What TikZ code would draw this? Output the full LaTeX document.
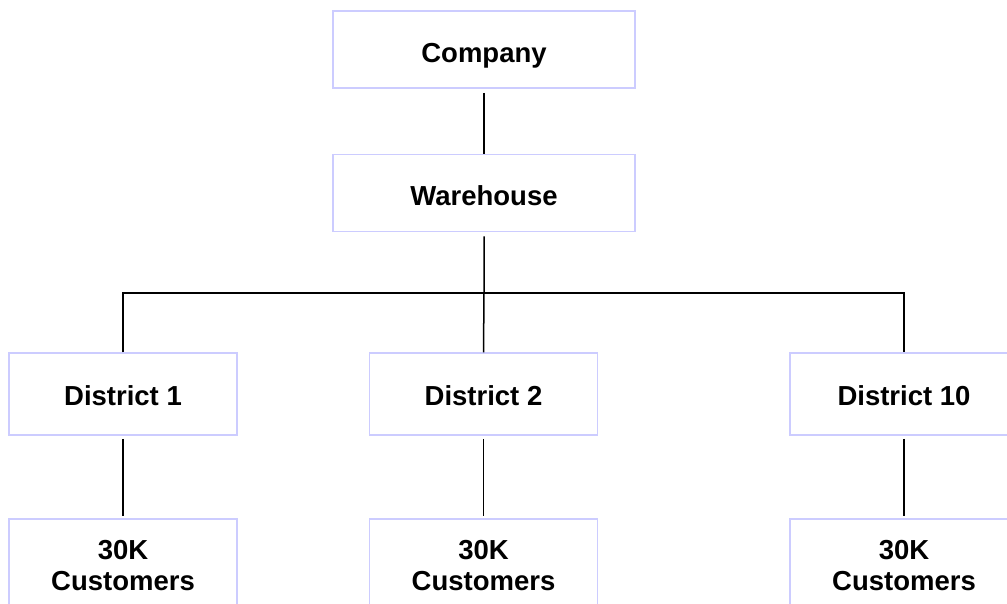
\documentclass[tikz,border=0pt]{standalone}
\usepackage{fontspec}
\setmainfont{Liberation Sans}
\definecolor{boxline}{RGB}{204,204,255}
\begin{document}
\begin{tikzpicture}[x=1pt,y=-1pt,
  orgbox/.style={draw=boxline, line width=1.5pt, rectangle, minimum width=302pt, minimum height=77pt,
    font=\bfseries\fontsize{27.5}{31}\selectfont, align=center, inner sep=0pt, text height=25pt, text depth=0pt},
  distbox/.style={orgbox, minimum width=228pt, minimum height=82pt, text height=22pt},
  custbox/.style={draw=boxline, line width=1.5pt, rectangle, minimum width=228pt, minimum height=93pt,
    font=\bfseries\fontsize{27.5}{31}\selectfont, align=center, inner sep=0pt},
  link/.style={draw=black, line width=1.5pt}]
\clip (0,0) rectangle (1007,603);
\node[orgbox] (comp) at (484,49.5) {Company};
\node[orgbox] (wh) at (484,193) {Warehouse};
\node[distbox] (d1) at (123,394) {District 1};
\node[distbox] (d2) at (483.5,394) {District 2};
\node[distbox] (d10) at (904,394) {District 10};
\node[custbox] (c1) at (123,565.5) {30K\\Customers};
\node[custbox] (c2) at (483.5,565.5) {30K\\Customers};
\node[custbox] (c10) at (904,565.5) {30K\\Customers};
\coordinate (bus) at (484,293);
\draw[link] ([yshift=-4pt]comp.south) -- (wh.north);
\draw[link] ([yshift=-4pt]wh.south) -- (bus) -- (d2.north);
\draw[link] (d1.north) |- (bus) -| (d10.north);
\draw[link] ([yshift=-3pt]d1.south) -- ([yshift=2pt]c1.north);
\draw[link] ([yshift=-3pt]d2.south) -- ([yshift=2pt]c2.north);
\draw[link] ([yshift=-3pt]d10.south) -- ([yshift=2pt]c10.north);
\end{tikzpicture}
\end{document}
